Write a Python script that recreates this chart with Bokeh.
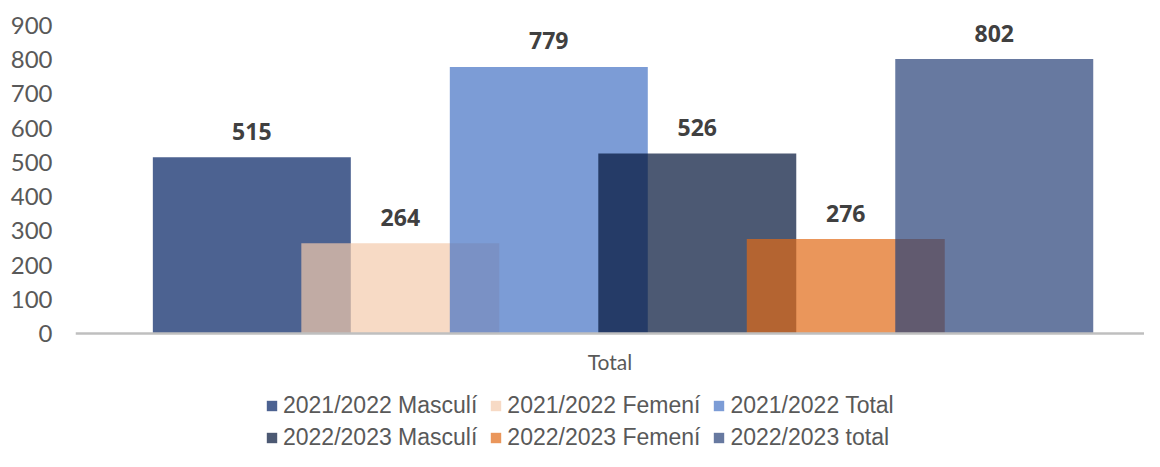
from bokeh.plotting import figure
from bokeh.models import (ColumnDataSource, FactorRange, Range1d, FixedTicker,
                          Legend, LegendItem, LabelSet)
from bokeh.core.properties import value
from bokeh.transform import dodge
from bokeh.embed import file_html
from bokeh.resources import INLINE

# ---- data ----
categories = ["Total"]
series_names = ["2021/2022 Masculí", "2021/2022 Femení", "2021/2022 Total",
                "2022/2023 Masculí", "2022/2023 Femení", "2022/2023 total"]
masculi_2122 = [515]
femeni_2122 = [264]
total_2122 = [779]
masculi_2223 = [526]
femeni_2223 = [276]
total_2223 = [802]
y_ticks = [0, 100, 200, 300, 400, 500, 600, 700, 800, 900]

series_values = [masculi_2122, femeni_2122, total_2122,
                 masculi_2223, femeni_2223, total_2223]

# ---- styles ----
colors = ["#002062", "#F4CAAC", "#4472C4", "#001338", "#E16A16", "#264077"]
bar_alpha = 0.7
bar_width = 0.1852
bar_step = 0.1389
bar_shift = 0.0122

data = {"cat": categories}
for i, vals in enumerate(series_values):
    data[f"v{i}"] = vals
    data[f"l{i}"] = [str(v) for v in vals]
source = ColumnDataSource(data)

p = figure(x_range=FactorRange(factors=categories, range_padding=0),
           y_range=Range1d(-344.8, 973.05),
           width=1144, height=451,
           output_backend="svg", toolbar_location=None,
           min_border_left=75, min_border_right=0,
           min_border_top=0, min_border_bottom=0)

p.outline_line_color = None
p.background_fill_color = "white"
p.border_fill_color = "white"
p.xgrid.visible = False
p.ygrid.visible = False

renderers = []
for i, name in enumerate(series_names):
    off = (i - 2.5) * bar_step + bar_shift
    r = p.vbar(x=dodge("cat", off, range=p.x_range), top=f"v{i}", bottom=0,
               width=bar_width, source=source,
               fill_color=colors[i], fill_alpha=bar_alpha, line_color=None)
    renderers.append(r)
    lbl = LabelSet(x=dodge("cat", off, range=p.x_range), y=f"v{i}", text=f"l{i}",
                   source=source, y_offset=26,
                   text_align="center", text_baseline="middle",
                   text_font=value("Open Sans"), text_font_style="bold",
                   text_font_size="23px", text_color="#404040")
    p.add_layout(lbl)

# x axis sits on the zero line
p.xaxis.fixed_location = 0
p.xaxis.axis_line_color = "#bfbfbf"
p.xaxis.axis_line_width = 2.5
p.xaxis.major_tick_line_color = None
p.xaxis.minor_tick_line_color = None
p.xaxis.major_tick_out = 0
p.xaxis.major_tick_in = 0
p.xaxis.major_label_standoff = 15
p.xaxis.major_label_text_font = "Lato"
p.xaxis.major_label_text_font_size = "21px"
p.xaxis.major_label_text_color = "#595959"

p.yaxis.ticker = FixedTicker(ticks=y_ticks)
p.yaxis.axis_line_color = None
p.yaxis.major_tick_line_color = None
p.yaxis.minor_tick_line_color = None
p.yaxis.major_tick_out = 0
p.yaxis.major_tick_in = 0
p.yaxis.major_label_standoff = 23
p.yaxis.major_label_text_font = "Lato"
p.yaxis.major_label_text_font_size = "24px"
p.yaxis.major_label_text_color = "#595959"

legend_style = dict(orientation="horizontal",
                    glyph_width=13, glyph_height=13, label_standoff=5, spacing=12,
                    label_text_font="Liberation Sans", label_text_font_size="23px",
                    label_text_color="#595959",
                    border_line_color=None, background_fill_alpha=0,
                    padding=0, margin=0)

items = [LegendItem(label=n, renderers=[r]) for n, r in zip(series_names, renderers)]
legend_row1 = Legend(items=items[:3], location=(190, 32), **legend_style)
legend_row2 = Legend(items=items[3:], location=(190, 0), **legend_style)
p.add_layout(legend_row1)
p.add_layout(legend_row2)

open("out.html", "w").write(file_html(p, INLINE))
